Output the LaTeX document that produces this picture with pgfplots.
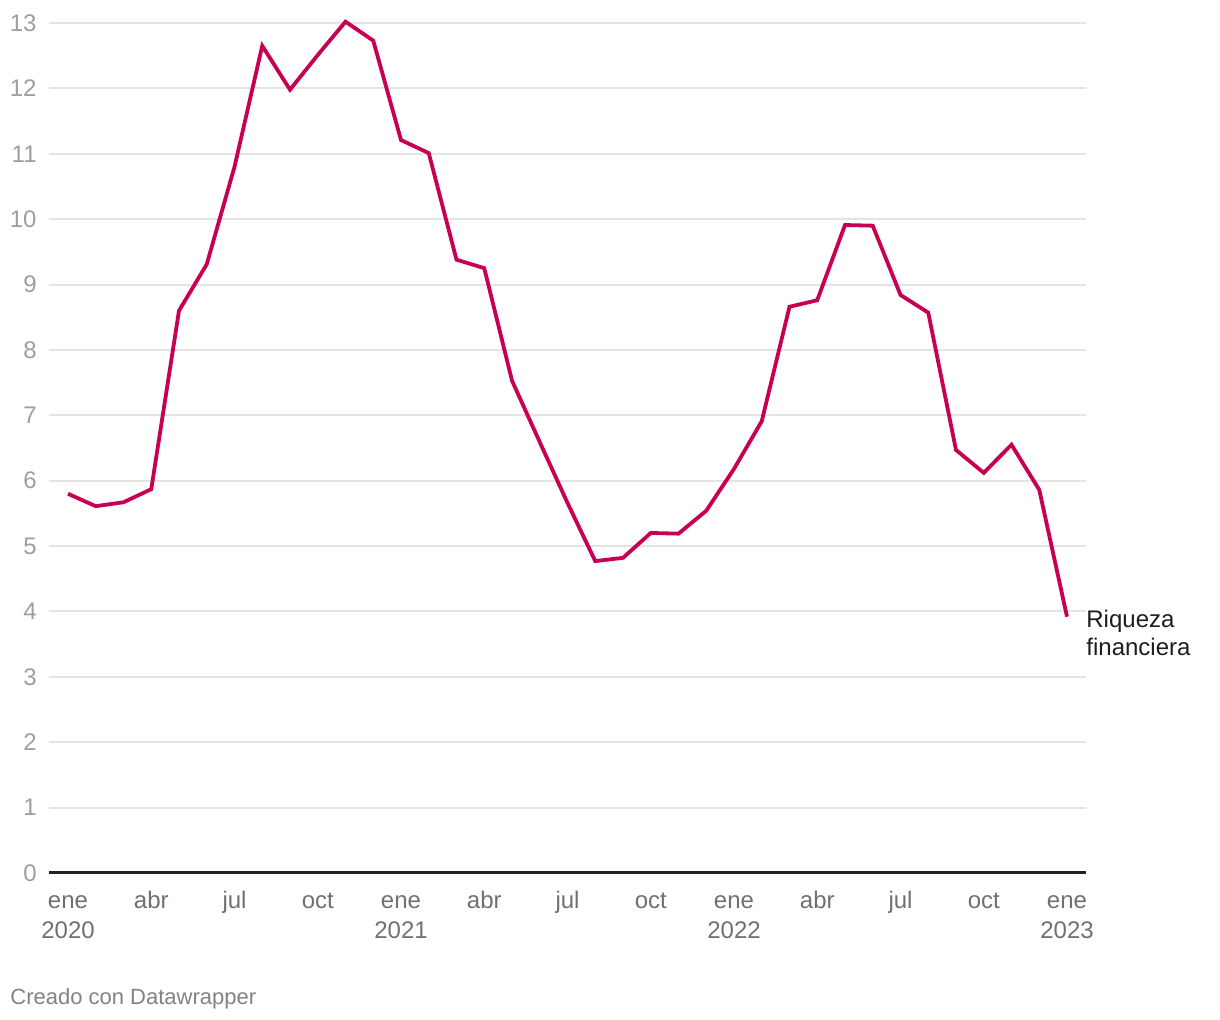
\documentclass[border=0pt]{standalone}
\usepackage{pgfplots}
\pgfplotsset{compat=1.18}
\usepackage{fontspec}
\setmainfont{Liberation Sans}
\definecolor{linec}{RGB}{199,0,84}
\definecolor{gridc}{RGB}{228,228,228}
\definecolor{ylab}{RGB}{158,158,158}
\definecolor{xlab}{RGB}{112,112,112}
\definecolor{foot}{RGB}{130,130,130}
\definecolor{lab}{RGB}{29,29,29}
\begin{document}
\begin{tikzpicture}[x=1pt,y=1pt]
\useasboundingbox (0,0) rectangle (610,510);
\begin{axis}[
  at={(24.5pt,73.5pt)}, anchor=south west,
  scale only axis, width=518.5pt, height=425pt,
  xmin=-0.685, xmax=36.685, ymin=0, ymax=13,
  axis line style={draw=none},
  major tick length=0pt,
  ytick={0,1,...,13},
  xtick={0,3,...,36},
  xticklabels={{\strut ene\\2020},{\strut abr},{\strut jul},{\strut oct},{\strut ene\\2021},{\strut abr},{\strut jul},{\strut oct},{\strut ene\\2022},{\strut abr},{\strut jul},{\strut oct},{\strut ene\\2023}},
  ymajorgrids,
  grid style={gridc, line width=1pt},
  clip=false,
  /pgf/number format/assume math mode=true,
  yticklabel style={font=\fontsize{12}{14}\selectfont, text=ylab, anchor=east, inner sep=0pt, xshift=-6pt},
  xticklabel style={font=\fontsize{12}{15}\selectfont, text=xlab, anchor=north, align=center, inner sep=0pt, yshift=-7pt},
]
\draw[color=black!87, line width=1.5pt] (rel axis cs:0,0) -- (rel axis cs:1,0);
\addplot[color=linec, line width=1.9pt, line join=miter, mark=none] table {
x y
0 5.80
1 5.61
2 5.67
3 5.87
4 8.60
5 9.31
6 10.80
7 12.65
8 11.98
9 12.51
10 13.02
11 12.73
12 11.21
13 11.01
14 9.38
15 9.25
16 7.53
17 6.59
18 5.66
19 4.77
20 4.82
21 5.20
22 5.19
23 5.54
24 6.18
25 6.91
26 8.66
27 8.76
28 9.91
29 9.90
30 8.84
31 8.57
32 6.47
33 6.12
34 6.55
35 5.86
36 3.92
};
\node[anchor=base west, inner sep=0pt, font=\fontsize{12}{14}\selectfont, text=lab] at (axis cs:36.685,3.747) {Riqueza};
\node[anchor=base west, inner sep=0pt, font=\fontsize{12}{14}\selectfont, text=lab] at (axis cs:36.685,3.319) {financiera};
\end{axis}
\node[anchor=base west, inner sep=0pt, font=\fontsize{11}{13}\selectfont, text=foot] at (5,7.5) {Creado con Datawrapper};
\end{tikzpicture}
\end{document}
